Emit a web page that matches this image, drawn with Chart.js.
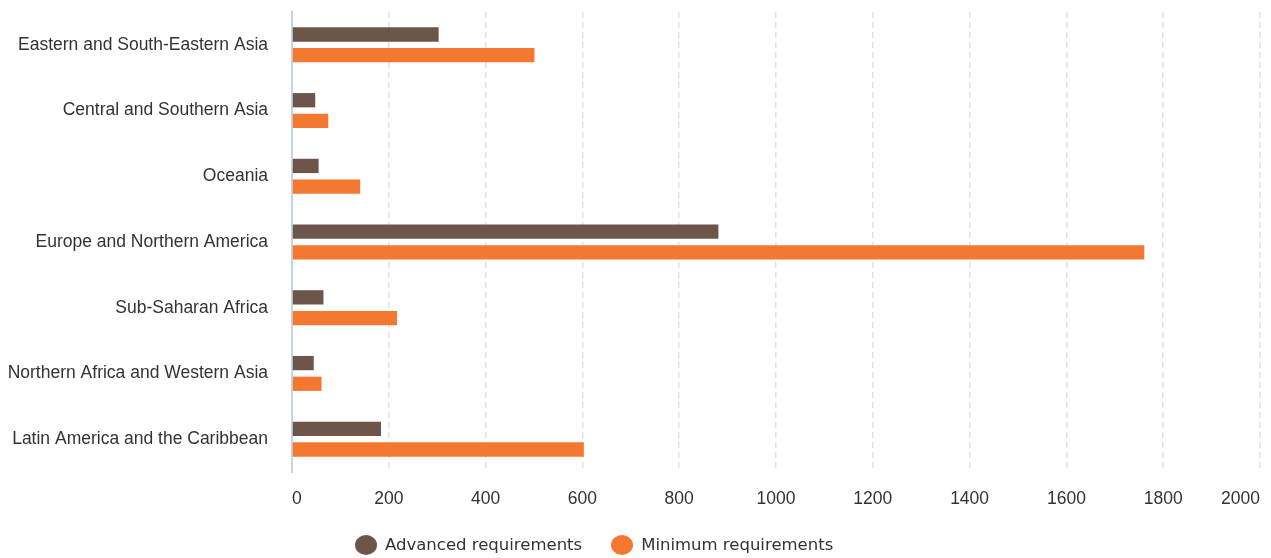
<!DOCTYPE html>
<html>
<head>
<meta charset="utf-8">
<script src="https://cdn.jsdelivr.net/npm/chart.js@4/dist/chart.umd.min.js"></script>
<style>
  html, body { margin: 0; padding: 0; background: #fff; }
  #wrap { position: relative; width: 1271px; height: 558px; }
  #legend {
    position: absolute; left: 355px; top: 535px;
    display: flex; align-items: center;
    font-family: "DejaVu Sans", Verdana, sans-serif; font-size: 16.5px; color: #333;
    line-height: 20px;
  }
  .item { display: flex; align-items: center; margin-right: 29px; }
  .dot { width: 22px; height: 20px; border-radius: 50%; margin-right: 8px; }
</style>
</head>
<body>
<div id="wrap">
  <canvas id="chart" width="1271" height="558"></canvas>
  <div id="legend"></div>
</div>
<script>
// data
const regions = [
  'Eastern and South-Eastern Asia',
  'Central and Southern Asia',
  'Oceania',
  'Europe and Northern America',
  'Sub-Saharan Africa',
  'Northern Africa and Western Asia',
  'Latin America and the Caribbean'
];
const advanced = [303, 48, 55, 881, 65, 45, 184];
const minimum = [501, 75, 141, 1761, 217, 61, 603];
const seriesNames = ['Advanced requirements', 'Minimum requirements'];
const colors = ['#6e5549', '#f47830'];

const labelFont = { family: '"Liberation Sans", Arial, sans-serif', size: 17.5 };

const chart = new Chart(document.getElementById('chart'), {
  type: 'bar',
  data: {
    labels: regions,
    datasets: [
      { label: seriesNames[0], data: advanced, backgroundColor: colors[0] },
      { label: seriesNames[1], data: minimum, backgroundColor: colors[1] }
    ]
  },
  options: {
    indexAxis: 'y',
    responsive: false,
    animation: false,
    categoryPercentage: 0.63,
    barPercentage: 0.69,
    layout: { padding: { top: 12, right: 11, bottom: 31, left: 0 } },
    plugins: { legend: { display: false }, tooltip: { enabled: false } },
    scales: {
      x: {
        min: 0, max: 2000,
        afterFit: s => { s.paddingLeft = 0; s.paddingRight = 0; },
        ticks: {
          stepSize: 200, align: 'inner', padding: 17, color: '#333',
          font: labelFont,
          callback: v => String(v)
        },
        grid: {
          color: ctx => ctx.tick && ctx.tick.value === 0 ? 'transparent' : '#e2e2e2',
          lineWidth: 1.5,
          drawTicks: false
        },
        border: { display: false, dash: [6, 4] }
      },
      y: {
        afterFit: s => { s.width = 292; s.paddingTop = 0; s.paddingBottom = 0; },
        ticks: { padding: 24, color: '#333', font: labelFont },
        grid: { color: 'transparent', drawTicks: false },
        border: { display: true, color: '#c3d5ea', width: 2 }
      }
    }
  }
});

// html legend
const legend = document.getElementById('legend');
seriesNames.forEach((name, i) => {
  const item = document.createElement('div');
  item.className = 'item';
  item.innerHTML = '<span class="dot" style="background:' + colors[i] + '"></span><span>' + name + '</span>';
  legend.appendChild(item);
});
</script>
</body>
</html>
